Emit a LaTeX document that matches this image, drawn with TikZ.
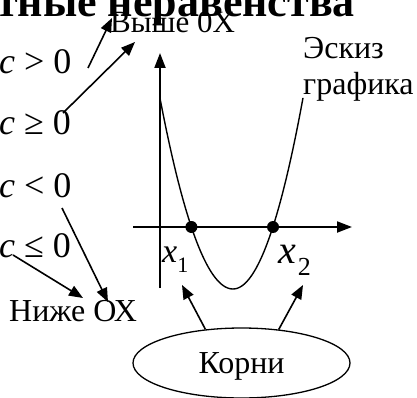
\documentclass[tikz,border=0pt]{standalone}
\usepackage{fontspec}
\setmainfont{Liberation Serif}
\usetikzlibrary{arrows.meta, shapes.geometric}

\begin{document}
\begin{tikzpicture}[
  x=1pt, y=-1pt,
  cond/.style={inner sep=0pt, anchor=base west, font=\fontsize{36}{42}\selectfont},
  lbl/.style={inner sep=0pt, anchor=base west, font=\fontsize{31}{36}\selectfont},
  arr/.style={-{Triangle[length=14pt, width=11pt]}, line width=1.6pt},
  axis/.style={-{Triangle[length=15pt, width=11pt]}, line width=2pt},
  curve/.style={line width=1.4pt},
  dot/.style={circle, fill=black, inner sep=0pt, minimum size=12pt}
]
\useasboundingbox (0,0) rectangle (417,398);

% Title (cut by the top edge)
\node[inner sep=0pt, anchor=base east, font=\bfseries\fontsize{44}{44}\selectfont] (title) at (355,17) {тные неравенства};

% Conditions on c
\node[cond] (gt) at (-1,74) {\textit{c} > 0};
\node[cond] (ge) at (-1,135) {\textit{c} ≥ 0};
\node[cond] (lt) at (-1,197) {\textit{c} < 0};
\node[cond] (le) at (-1,257) {\textit{c} ≤ 0};

% Labels
\node[lbl] (above) at (110,33) {Выше 0X};
\node[lbl, font=\fontsize{32}{36}\selectfont] (below) at (9,321) {Ниже ОХ};
\node[lbl, anchor=north west, align=left, font=\fontsize{32}{36}\selectfont] (sketch) at (303,37) {Эскиз\\графика};

% Axes
\coordinate (yb) at (160,288);
\coordinate (yt) at (160,53);
\coordinate (xl) at (133,227);
\coordinate (xr) at (352,227);
\draw[axis] (yb) -- (yt);
\draw[axis] (xl) -- (xr);

% Parabola
\draw[curve] plot[domain=160:233, samples=40, smooth] (\x, {289-0.0358*(\x-233)^2});
\draw[curve] plot[domain=233:303, samples=40, smooth] (\x, {289-0.039*(\x-233)^2});

% Roots
\node[dot] (r1) at (191.4,227) {};
\node[dot] (r2) at (273,227) {};
\node[inner sep=0pt, anchor=base west, font=\fontsize{34}{34}\selectfont] (x1) at (162,262)
  {\textit{x}\raisebox{-10pt}{\fontsize{22}{22}\selectfont 1}};
\node[inner sep=0pt, anchor=base west, font=\fontsize{40}{40}\selectfont] (x2) at (278,263)
  {\textit{x}\hspace{2pt}\raisebox{-12pt}{\fontsize{26}{26}\selectfont 2}};

% Ellipse
\node[draw, ellipse, line width=1.3pt, minimum width=217pt, minimum height=70pt, inner sep=0pt,
  text depth=0pt, font=\fontsize{32}{38}\selectfont] (roots) at (241.5,363) {Корни};

% Arrows
\coordinate (gts) at (88,68);
\coordinate (abv1) at (112,18);
\coordinate (ges) at (63,113);
\coordinate (abv2) at (135,42);
\coordinate (lts) at (62,208);
\coordinate (blw2) at (108,302);
\coordinate (les) at (13,255);
\coordinate (blw1) at (83,298);
\coordinate (x1t) at (182,285);
\coordinate (x2t) at (303,285);
\draw[arr] (gts) -- (abv1);
\draw[arr] (ges) -- (abv2);
\draw[arr] (lts) -- (blw2);
\draw[arr] (les) -- (blw1);
\draw[arr] (roots.137) -- (x1t);
\draw[arr] (roots.42) -- (x2t);

\end{tikzpicture}
\end{document}
